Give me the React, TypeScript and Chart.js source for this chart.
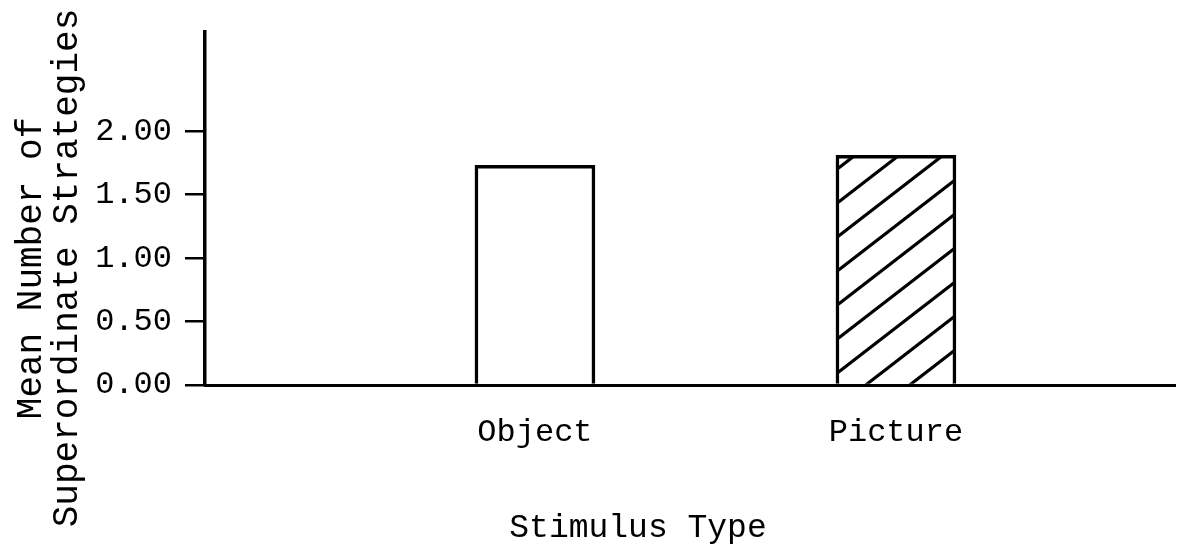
import React, { useEffect, useRef } from "react";
import { Chart, registerables } from "chart.js";

Chart.register(...registerables);

const categories = ["Object", "Picture"];
const meanStrategies = [1.73, 1.81];
const yTicks = [0, 0.5, 1, 1.5, 2];
const yTitleLines = ["Mean Number of", "Superordinate Strategies"];
const xTitle = "Stimulus Type";

const FONT = '"Liberation Mono", "DejaVu Sans Mono", monospace';

function makeHatch(): CanvasPattern | string {
  const w = 44;
  const h = 34;
  const c = document.createElement("canvas");
  c.width = w;
  c.height = h;
  const ctx = c.getContext("2d");
  if (!ctx) return "#fff";
  ctx.fillStyle = "#fff";
  ctx.fillRect(0, 0, w, h);
  ctx.strokeStyle = "#000";
  ctx.lineWidth = 3.2;
  for (const k of [-1, 0, 1]) {
    ctx.beginPath();
    ctx.moveTo(-4, h + (h / w) * 4 + k * h);
    ctx.lineTo(w + 4, h - (h / w) * (w + 4) + k * h);
    ctx.stroke();
  }
  return ctx.createPattern(c, "repeat") || "#fff";
}

const titlesPlugin = {
  id: "typedTitles",
  afterDraw(chart: any) {
    const { ctx } = chart;
    ctx.save();
    ctx.fillStyle = "#000";
    ctx.textAlign = "center";
    ctx.textBaseline = "middle";
    ctx.font = `36px ${FONT}`;
    const lineXs = [31, 67];
    yTitleLines.forEach((line, i) => {
      ctx.save();
      ctx.translate(lineXs[i], 268);
      ctx.rotate(-Math.PI / 2);
      ctx.fillText(line, 0, 0);
      ctx.restore();
    });
    ctx.font = `33px ${FONT}`;
    ctx.fillText(xTitle, 638, 528);
    ctx.restore();
  },
};

export default function App() {
  const ref = useRef<HTMLCanvasElement | null>(null);

  useEffect(() => {
    if (!ref.current) return;
    const hatch = makeHatch();
    const chart = new Chart(ref.current, {
      type: "bar",
      data: {
        datasets: [
          {
            data: categories.map((c, i) => ({ x: i + 1, y: meanStrategies[i] })),
            backgroundColor: ["#ffffff", hatch],
            borderColor: "#000",
            borderWidth: 3.5,
            barThickness: 120,
          },
        ],
      },
      plugins: [titlesPlugin],
      options: {
        animation: false,
        responsive: true,
        maintainAspectRatio: false,
        layout: { padding: { top: 30, right: 15, left: 0, bottom: 0 } },
        plugins: {
          legend: { display: false },
          tooltip: { enabled: false },
          title: { display: false },
        },
        scales: {
          x: {
            type: "linear",
            min: 0.086,
            max: 2.773,
            offset: false,
            afterBuildTicks: (scale: any) => {
              scale.ticks = categories.map((_, i) => ({ value: i + 1 }));
            },
            afterFit: (scale: any) => {
              scale.height = 164;
            },
            grid: { display: false, offset: false },
            border: { display: true, color: "#000", width: 3 },
            ticks: {
              color: "#000",
              padding: 20,
              font: { family: FONT, size: 32 },
              callback: (v: any) => categories[Math.round(Number(v)) - 1] ?? "",
            },
          },
          y: {
            min: 0,
            max: 2.78,
            afterBuildTicks: (scale: any) => {
              scale.ticks = yTicks.map((v) => ({ value: v }));
            },
            afterFit: (scale: any) => {
              scale.width = 205;
            },
            grid: {
              drawOnChartArea: false,
              drawTicks: true,
              tickLength: 20,
              color: "#000",
              lineWidth: 2.5,
            },
            border: { display: true, color: "#000", width: 3.5 },
            ticks: {
              color: "#000",
              padding: 13,
              font: { family: FONT, size: 32 },
              callback: (v: any) => Number(v).toFixed(2),
            },
          },
        },
      },
    });
    return () => chart.destroy();
  }, []);

  return (
    <div
      style={{
        position: "fixed",
        left: 0,
        top: 0,
        width: 1190,
        height: 549,
        background: "#fff",
      }}
    >
      <canvas ref={ref} />
    </div>
  );
}
